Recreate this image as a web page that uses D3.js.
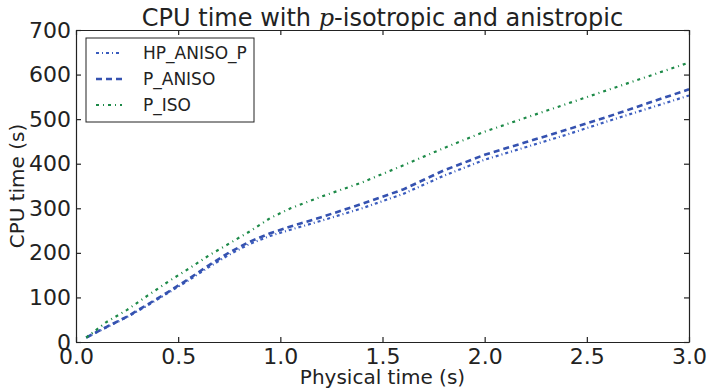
<!DOCTYPE html>
<html>
<head>
<meta charset="utf-8">
<script src="https://cdn.jsdelivr.net/npm/d3@7"></script>
<style>
  body { margin: 0; background: #fff; }
  svg { font-family: "DejaVu Sans", sans-serif; }
</style>
</head>
<body>
<script>
    // physical time (s) at which CPU time was sampled
    const times = [0.05, 0.15, 0.25, 0.35, 0.45, 0.55, 0.65, 0.75, 0.85, 0.95, 1.05,
                   1.2, 1.4, 1.6, 1.8, 2.0, 2.2, 2.4, 2.6, 2.8, 3.0];
    const hpAnisoP = [10, 33, 56, 82, 110, 138, 168, 196, 220, 238, 252,
                      272, 300, 332, 373, 409, 437, 465, 495, 524, 553];
    const pAniso   = [10, 34, 57, 84, 112, 141, 172, 201, 225, 244, 259,
                      280, 310, 342, 385, 420, 448, 476, 505, 536, 567];
    const pIso     = [10, 45, 72, 104, 135, 164, 194, 221, 248, 278, 300,
                      326, 358, 396, 435, 472, 503, 534, 565, 596, 627];
    const xTicks = [0, 0.5, 1.0, 1.5, 2.0, 2.5, 3.0];
    const yTicks = [0, 100, 200, 300, 400, 500, 600, 700];

    const series = [
        {name: 'HP_ANISO_P', values: hpAnisoP, color: '#3a5cbe', dash: '3,3,1,3', width: 2.2},
        {name: 'P_ANISO', values: pAniso, color: '#3552b0', dash: '6,4', width: 2.6},
        {name: 'P_ISO', values: pIso, color: '#1d8a48', dash: '3,4,1,4', width: 2.2}
    ];

    const W = 709, H = 390;
    const m = {left: 76, right: 20, top: 30, bottom: 48};

    const svg = d3.select('body').append('svg')
        .attr('width', W)
        .attr('height', H);

    const x = d3.scaleLinear().domain([0, 3]).range([m.left, W - m.right]);
    const y = d3.scaleLinear().domain([0, 700]).range([H - m.bottom, m.top]);

    const line = d3.line()
        .x((d, i) => x(times[i]))
        .y(d => y(d));

    // data lines
    svg.selectAll('path.series')
        .data(series)
        .enter().append('path')
        .attr('class', 'series')
        .attr('d', d => line(d.values))
        .attr('fill', 'none')
        .attr('stroke', d => d.color)
        .attr('stroke-width', d => d.width)
        .attr('stroke-dasharray', d => d.dash);

    // axes, ticks pointing inward on every side
    const tickLen = 5;
    svg.append('g')
        .attr('transform', `translate(0,${y(0)})`)
        .call(d3.axisBottom(x).tickValues(xTicks).tickFormat(d3.format('.1f'))
            .tickSizeInner(-tickLen).tickSizeOuter(0).tickPadding(6));
    svg.append('g')
        .attr('transform', `translate(0,${y(700)})`)
        .call(d3.axisTop(x).tickValues(xTicks).tickFormat('')
            .tickSizeInner(-tickLen).tickSizeOuter(0));
    svg.append('g')
        .attr('transform', `translate(${x(0)},0)`)
        .call(d3.axisLeft(y).tickValues(yTicks).tickFormat(d3.format('d'))
            .tickSizeInner(-tickLen).tickSizeOuter(0).tickPadding(5));
    svg.append('g')
        .attr('transform', `translate(${x(3)},0)`)
        .call(d3.axisRight(y).tickValues(yTicks).tickFormat('')
            .tickSizeInner(-tickLen).tickSizeOuter(0));

    svg.selectAll('.domain').attr('stroke', '#222').attr('stroke-width', 1.2);
    svg.selectAll('.tick line').attr('stroke', '#222').attr('stroke-width', 1.2);
    svg.selectAll('.tick text')
        .attr('font-family', '"DejaVu Sans", sans-serif')
        .attr('font-size', 22)
        .attr('fill', '#222');

    // title
    const title = svg.append('text')
        .attr('x', (x(0) + x(3)) / 2)
        .attr('y', 26)
        .attr('text-anchor', 'middle')
        .attr('font-size', 24)
        .attr('fill', '#222');
    title.append('tspan').text('CPU time with ');
    title.append('tspan').text('p')
        .attr('font-family', '"DejaVu Serif", serif')
        .attr('font-style', 'italic');
    title.append('tspan').text('-isotropic and anistropic');

    // axis labels
    svg.append('text')
        .attr('x', (x(0) + x(3)) / 2)
        .attr('y', 384)
        .attr('text-anchor', 'middle')
        .attr('font-size', 20)
        .attr('fill', '#222')
        .text('Physical time (s)');
    svg.append('text')
        .attr('transform', `translate(24,${(y(0) + y(700)) / 2}) rotate(-90)`)
        .attr('text-anchor', 'middle')
        .attr('font-size', 20)
        .attr('fill', '#222')
        .text('CPU time (s)');

    // legend
    const legend = svg.append('g').attr('transform', 'translate(86,38)');
    legend.append('rect')
        .attr('width', 168)
        .attr('height', 84)
        .attr('fill', '#fff')
        .attr('stroke', '#222')
        .attr('stroke-width', 1);
    const item = legend.selectAll('g.item')
        .data(series)
        .enter().append('g')
        .attr('class', 'item')
        .attr('transform', (d, i) => `translate(0,${15 + i * 26})`);
    item.append('line')
        .attr('x1', 10).attr('x2', 36)
        .attr('stroke', d => d.color)
        .attr('stroke-width', d => d.width)
        .attr('stroke-dasharray', d => d.dash);
    item.append('text')
        .attr('x', 57)
        .attr('y', 6)
        .attr('font-size', 17)
        .attr('fill', '#222')
        .text(d => d.name);
</script>
</body>
</html>
